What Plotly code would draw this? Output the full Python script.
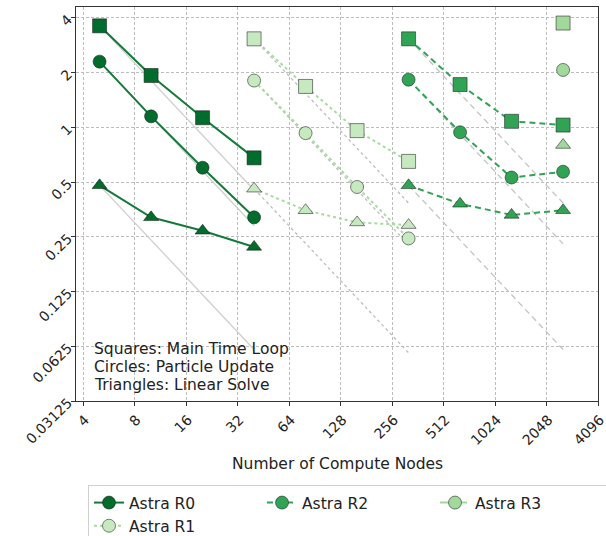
import numpy as np
import plotly.graph_objects as go

# ---------------- data ----------------
nodes_r0 = [5, 10, 20, 40]
nodes_r1 = [40, 80, 160, 320]
nodes_r2 = [320, 640, 1280, 2560]
nodes_r3 = [2560]

r0_loop = [3.62, 1.93, 1.13, 0.68]
r0_particle = [2.3, 1.15, 0.60, 0.32]
r0_solve = [0.48, 0.32, 0.27, 0.22]

r1_loop = [3.07, 1.68, 0.96, 0.65]
r1_particle = [1.81, 0.93, 0.47, 0.245]
r1_solve = [0.46, 0.35, 0.30, 0.29]

r2_loop = [3.07, 1.72, 1.08, 1.03]
r2_particle = [1.83, 0.94, 0.53, 0.57]
r2_solve = [0.48, 0.38, 0.33, 0.35]

r3_loop = [3.75]
r3_particle = [2.07]
r3_solve = [0.80]

x_ticks = [4, 8, 16, 32, 64, 128, 256, 512, 1024, 2048, 4096]
y_ticks = [0.03125, 0.0625, 0.125, 0.25, 0.5, 1, 2, 4]
y_tick_text = ["0.03125", "0.0625", "0.125", "0.25", "0.5", "1", "2", "4"]

note_lines = ["Squares: Main Time Loop", "Circles: Particle Update", "Triangles: Linear Solve"]

series = [
    dict(name="Astra R0", x=nodes_r0, vals=[r0_loop, r0_particle, r0_solve],
         color="#006d2c", line="#137a3a", dash="solid", ideal_dash="solid", ideal_color="#cfcfcf"),
    dict(name="Astra R2", x=nodes_r2, vals=[r2_loop, r2_particle, r2_solve],
         color="#31a354", line="#31a354", dash="6px,4px", ideal_dash="6px,4px", ideal_color="#c4c4c4"),
    dict(name="Astra R3", x=nodes_r3, vals=[r3_loop, r3_particle, r3_solve],
         color="#a1d99b", line="#a1d99b", dash="dashdot", ideal_dash="dashdot", ideal_color="#c4c4c4"),
    dict(name="Astra R1", x=nodes_r1, vals=[r1_loop, r1_particle, r1_solve],
         color="#c7e9c0", line="#a8dba0", dash="dot", ideal_dash="dot", ideal_color="#bdbdbd"),
]
symbols = ["square", "circle", "triangle-up"]
sizes = [14, 13, 13]

fig = go.Figure()

# ideal scaling lines
for s in series:
    if len(s["x"]) < 2:
        continue
    xs = np.array(s["x"], dtype=float)
    for vals in s["vals"]:
        ideal = vals[0] * xs[0] / xs
        fig.add_trace(go.Scatter(x=xs, y=ideal, mode="lines",
                                 line=dict(color=s["ideal_color"], width=1.3, dash=s["ideal_dash"]),
                                 showlegend=False, hoverinfo="skip"))

# data lines
for s in series:
    for vals, sym, sz in zip(s["vals"], symbols, sizes):
        fig.add_trace(go.Scatter(
            x=s["x"], y=vals, mode="lines+markers",
            line=dict(color=s["line"], width=2, dash=s["dash"]),
            marker=dict(symbol=sym, size=sz, color=s["color"],
                        line=dict(color="rgba(30,30,30,0.55)", width=1)),
            showlegend=False))

# legend entries
for s in series:
    fig.add_trace(go.Scatter(
        x=[None], y=[None], mode="lines+markers", name=s["name"],
        line=dict(color=s["line"], width=2, dash=s["dash"]),
        marker=dict(symbol="circle", size=13, color=s["color"],
                    line=dict(color="rgba(30,30,30,0.55)", width=1))))

axis_common = dict(showline=True, mirror=True, linecolor="#333", linewidth=1.2,
                   showgrid=True, gridcolor="#bdbdbd", griddash="3px,2px", gridwidth=1,
                   ticks="outside", ticklen=4, tickcolor="#333", zeroline=False,
                   automargin=False, ticklabeloverflow="allow",
                   tickfont=dict(family="DejaVu Sans", size=14, color="#222"))

fig.update_xaxes(type="log", range=[np.log10(2 ** 1.864), np.log10(4096)],
                 tickvals=x_ticks, ticktext=[str(v) for v in x_ticks], tickangle=-45,
                 ticklabelshift=2, **axis_common)
fig.update_yaxes(type="log", range=[np.log10(2 ** -5), np.log10(2 ** 2.2)],
                 tickvals=y_ticks, ticktext=y_tick_text, tickangle=-45,
                 **axis_common)

for i, t in enumerate(note_lines):
    fig.add_annotation(x=0.03, y=0.132 - i * 0.0457, xref="paper", yref="paper",
                       xanchor="left", yanchor="middle", align="left", showarrow=False,
                       text=t, font=dict(family="DejaVu Sans", size=15.5, color="#222"))

fig.add_annotation(x=0.5, y=-0.16, xref="paper", yref="paper", xanchor="center", yanchor="middle",
                   showarrow=False, text="Number of Compute Nodes",
                   font=dict(family="DejaVu Sans", size=15.5, color="#222"))

fig.update_layout(
    width=606, height=536,
    margin=dict(l=76, r=8, t=7, b=135),
    plot_bgcolor="white", paper_bgcolor="white",
    font=dict(family="DejaVu Sans", size=15.5, color="#222"),
    showlegend=True,
    legend=dict(orientation="h", xref="container", yref="container",
                x=88 / 606, y=1 - 485 / 536, xanchor="left", yanchor="top",
                bordercolor="#d0d0d0", borderwidth=1, bgcolor="white",
                entrywidth=128, entrywidthmode="pixels", tracegroupgap=0,
                font=dict(family="DejaVu Sans", size=15.5, color="#222")),
)

fig.write_html("out.html")
